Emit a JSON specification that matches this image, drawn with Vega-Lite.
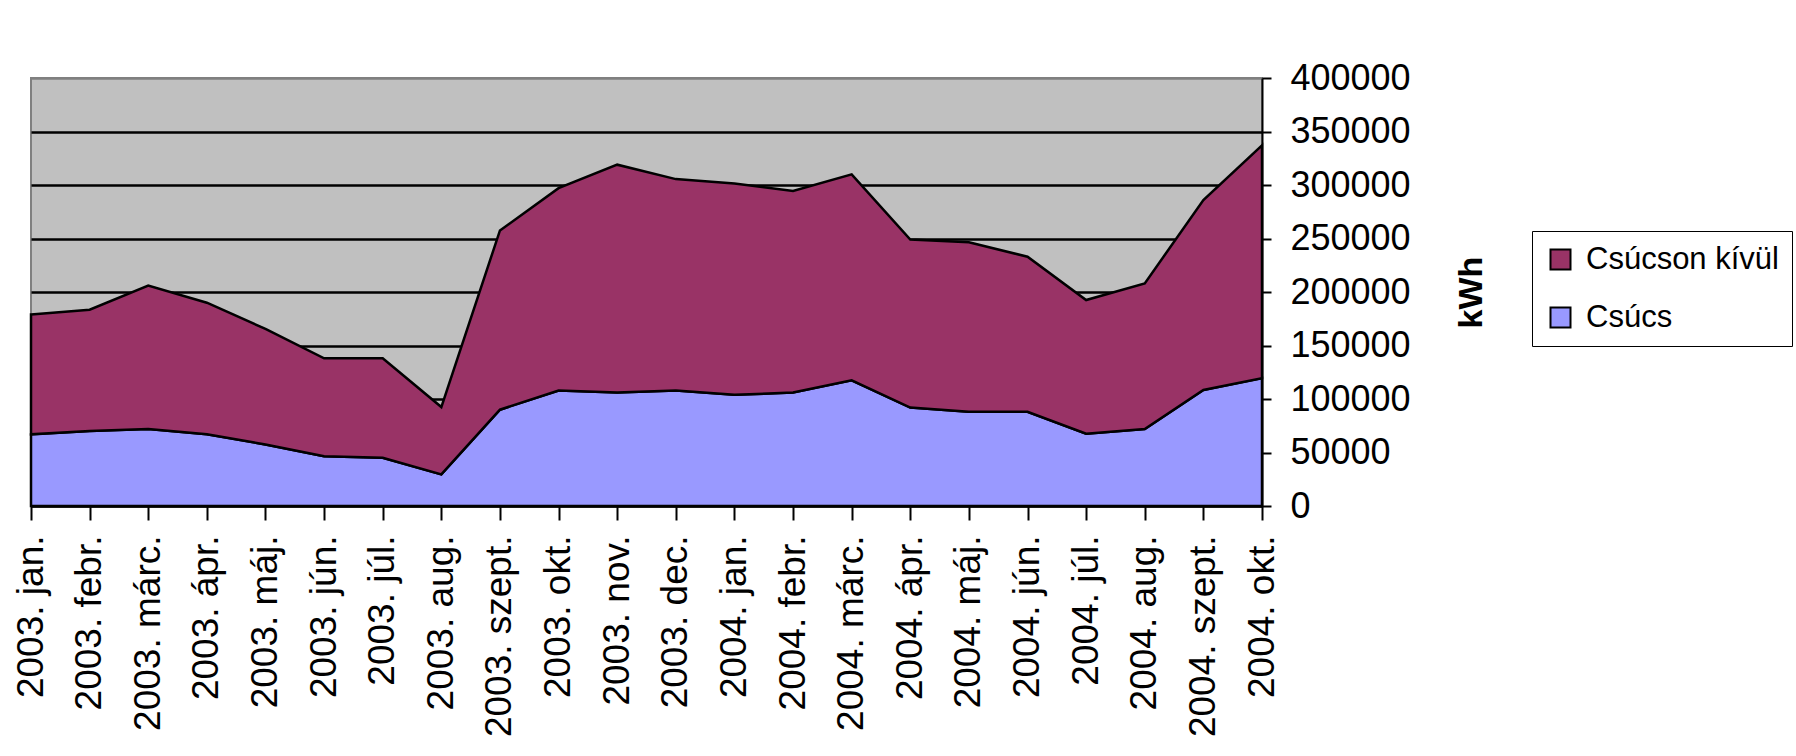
{
  "$schema": "https://vega.github.io/schema/vega-lite/v6.json",
  "width": 1231,
  "height": 428,
  "autosize": "none",
  "padding": {"left": 31, "top": 78, "right": 534, "bottom": 250},
  "background": "white",
  "config": {
    "font": "Liberation Sans",
    "view": {"fill": "#C0C0C0", "stroke": "#808080", "strokeWidth": 2}
  },
  "data": {
    "values": [
      {"honap": "2003. jan.", "Csúcs": 67000, "Csúcson kívül": 112000},
      {"honap": "2003. febr.", "Csúcs": 70000, "Csúcson kívül": 113500},
      {"honap": "2003. márc.", "Csúcs": 72000, "Csúcson kívül": 134000},
      {"honap": "2003. ápr.", "Csúcs": 67000, "Csúcson kívül": 123000},
      {"honap": "2003. máj.", "Csúcs": 57500, "Csúcson kívül": 108000},
      {"honap": "2003. jún.", "Csúcs": 46500, "Csúcson kívül": 91500},
      {"honap": "2003. júl.", "Csúcs": 45000, "Csúcson kívül": 93000},
      {"honap": "2003. aug.", "Csúcs": 29500, "Csúcson kívül": 63000},
      {"honap": "2003. szept.", "Csúcs": 90000, "Csúcson kívül": 167500},
      {"honap": "2003. okt.", "Csúcs": 108000, "Csúcson kívül": 189000},
      {"honap": "2003. nov.", "Csúcs": 106000, "Csúcson kívül": 213000},
      {"honap": "2003. dec.", "Csúcs": 108000, "Csúcson kívül": 197500},
      {"honap": "2004. jan.", "Csúcs": 104000, "Csúcson kívül": 197500},
      {"honap": "2004. febr.", "Csúcs": 106000, "Csúcson kívül": 188500},
      {"honap": "2004. márc.", "Csúcs": 117500, "Csúcson kívül": 192500},
      {"honap": "2004. ápr.", "Csúcs": 92000, "Csúcson kívül": 157000},
      {"honap": "2004. máj.", "Csúcs": 88000, "Csúcson kívül": 158500},
      {"honap": "2004. jún.", "Csúcs": 88000, "Csúcson kívül": 145000},
      {"honap": "2004. júl.", "Csúcs": 67500, "Csúcson kívül": 125000},
      {"honap": "2004. aug.", "Csúcs": 72000, "Csúcson kívül": 136000},
      {"honap": "2004. szept.", "Csúcs": 108500, "Csúcson kívül": 177500},
      {"honap": "2004. okt.", "Csúcs": 119500, "Csúcson kívül": 217500}
    ]
  },
  "transform": [
    {"fold": ["Csúcs", "Csúcson kívül"], "as": ["sorozat", "kWh"]}
  ],
  "mark": {"type": "area", "stroke": "black", "strokeWidth": 2.5, "interpolate": "linear"},
  "encoding": {
    "x": {
      "field": "honap",
      "type": "ordinal",
      "sort": null,
      "scale": {"type": "point", "padding": 0},
      "axis": {
        "title": null,
        "labelAngle": -90,
        "labelFontSize": 37,
        "labelColor": "black",
        "labelPadding": 15,
        "labelLimit": 400,
        "tickSize": 14,
        "tickWidth": 2,
        "tickColor": "black",
        "domainColor": "black",
        "domainWidth": 2,
        "grid": false,
        "labelOverlap": false
      }
    },
    "y": {
      "field": "kWh",
      "type": "quantitative",
      "stack": "zero",
      "scale": {"domain": [0, 400000], "nice": false},
      "axis": {
        "orient": "right",
        "values": [0, 50000, 100000, 150000, 200000, 250000, 300000, 350000, 400000],
        "format": "d",
        "labelFontSize": 36,
        "labelColor": "black",
        "labelPadding": 19,
        "tickSize": 9,
        "tickWidth": 2,
        "tickColor": "black",
        "domainColor": "black",
        "domainWidth": 2,
        "grid": true,
        "gridWidth": 2.5,
        "gridColor": {"condition": {"test": "datum.value >= 400000", "value": "#808080"}, "value": "black"},
        "title": "kWh",
        "titleFontSize": 34,
        "titleFontWeight": "bold",
        "titleColor": "black",
        "titleAngle": 270,
        "titleBaseline": "top",
        "titlePadding": 44
      }
    },
    "color": {
      "field": "sorozat",
      "type": "nominal",
      "scale": {"domain": ["Csúcson kívül", "Csúcs"], "range": ["#993366", "#9999FF"]},
      "legend": {
        "title": null,
        "orient": "none",
        "legendX": 1501,
        "legendY": 153,
        "direction": "vertical",
        "symbolType": "square",
        "symbolSize": 400,
        "symbolStrokeColor": "black",
        "symbolStrokeWidth": 2,
        "symbolOpacity": 1,
        "labelFontSize": 31,
        "labelColor": "black",
        "labelOffset": 10,
        "labelLimit": 400,
        "rowPadding": 26,
        "padding": 13,
        "strokeColor": "black"
      }
    },
    "order": {"field": "sorozat", "sort": "ascending"}
  }
}
